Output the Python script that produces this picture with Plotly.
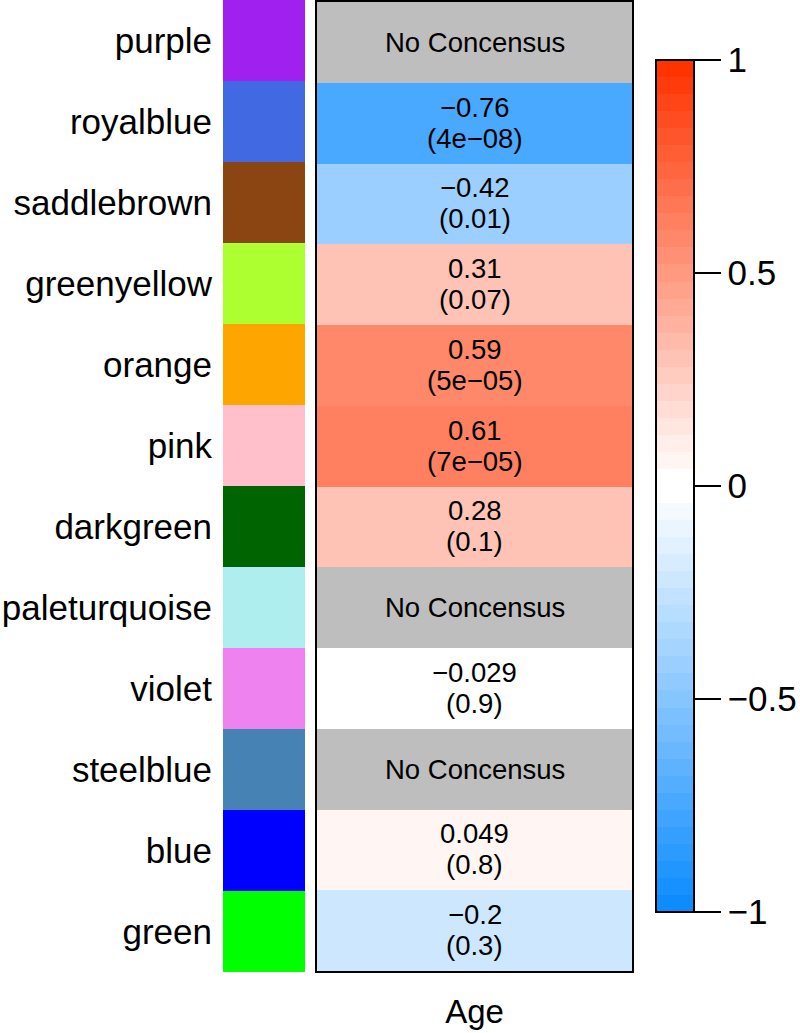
import plotly.graph_objects as go

# module eigengene vs trait, top row first
modules = ["purple", "royalblue", "saddlebrown", "greenyellow", "orange", "pink",
           "darkgreen", "paleturquoise", "violet", "steelblue", "blue", "green"]
# R colour values (R "purple" and "green" differ from the CSS ones)
module_hex = ["#A020F0", "#4169E1", "#8B4513", "#ADFF2F", "#FFA500", "#FFC0CB",
              "#006400", "#AFEEEE", "#EE82EE", "#4682B4", "#0000FF", "#00FF00"]
trait = "Age"
cor = [None, -0.76, -0.42, 0.31, 0.59, 0.61, 0.28, None, -0.029, None, 0.049, -0.2]
cor_text = [None, "−0.76", "−0.42", "0.31", "0.59", "0.61", "0.28", None,
            "−0.029", None, "0.049", "−0.2"]
p_text = [None, "4e−08", "0.01", "0.07", "5e−05", "7e−05", "0.1", None,
          "0.9", None, "0.8", "0.3"]
cbar_vals = [-1, -0.5, 0, 0.5, 1]
cbar_text = ["−1", "−0.5", "0", "0.5", "1"]
NA_TEXT = "No Concensus"

# stepped blue-white-red palette, 50 colours (like WGCNA blueWhiteRed(50))
blue_end = (0.05, 0.55, 1.0)
red_end = (1.0, 0.2, 0.0)
half = 25
pal = []
for i in range(half):
    t = i / (half - 1)
    pal.append(tuple(b + (1 - b) * t for b in blue_end))
for i in range(half):
    t = i / (half - 1)
    pal.append(tuple(1 + (r - 1) * t for r in red_end))
pal_hex = ["#%02x%02x%02x" % tuple(round(c * 255) for c in col) for col in pal]
n = len(pal_hex)
stepped = []
for k, c in enumerate(pal_hex):
    stepped.append([k / n, c])
    stepped.append([(k + 1) / n, c])

fig = go.Figure()

# colour swatches
fig.add_trace(go.Heatmap(
    z=[[i] for i in range(len(modules))], x=["module"], y=modules,
    colorscale=[[i / (len(module_hex) - 1), c] for i, c in enumerate(module_hex)],
    zmin=0, zmax=len(modules) - 1, showscale=False, hoverinfo="skip",
    xaxis="x", yaxis="y",
))

# correlation cells
fig.add_trace(go.Heatmap(
    z=[[v] for v in cor], x=[trait], y=modules,
    colorscale=stepped, zmin=-1, zmax=1,
    xaxis="x2", yaxis="y2",
    colorbar=dict(
        x=656 / 800, xanchor="left", xpad=0,
        y=1 - 486 / 1033, yanchor="middle", ypad=0,
        lenmode="pixels", len=852, thickness=38,
        outlinewidth=2, outlinecolor="black",
        ticks="outside", ticklen=26, tickwidth=2, tickcolor="black",
        tickvals=cbar_vals, ticktext=cbar_text,
        tickfont=dict(size=35, color="black"),
    ),
))

CELL_FONT = dict(size=27.5)
annotations = []
for m, v, ct, pt in zip(modules, cor, cor_text, p_text):
    if v is None:
        annotations.append(dict(x=trait, y=m, xref="x2", yref="y2", text=NA_TEXT,
                                showarrow=False, font=CELL_FONT))
    else:
        annotations.append(dict(x=trait, y=m, xref="x2", yref="y2", text=ct,
                                showarrow=False, yshift=16, font=CELL_FONT))
        annotations.append(dict(x=trait, y=m, xref="x2", yref="y2", text="(" + pt + ")",
                                showarrow=False, yshift=-15, font=CELL_FONT))

fig.update_layout(
    width=800, height=1033,
    margin=dict(l=0, r=0, t=0, b=0, autoexpand=False),
    paper_bgcolor="white", plot_bgcolor="#BEBEBE",
    font=dict(family="Liberation Sans, Arial, sans-serif", color="black"),
    showlegend=False,
    annotations=annotations,
    xaxis=dict(domain=[223 / 800, 305 / 800], showticklabels=False,
               showgrid=False, zeroline=False, ticks="", automargin=False),
    yaxis=dict(domain=[61 / 1033, 1], autorange="reversed", showgrid=False,
               zeroline=False, ticks="", tickfont=dict(size=35),
               ticklabelstandoff=10, automargin=False),
    xaxis2=dict(domain=[317 / 800, 632 / 800], anchor="y2", showgrid=False,
                zeroline=False, ticks="", showline=True, mirror=True,
                linewidth=2, linecolor="black", tickfont=dict(size=33),
                ticklabelstandoff=10, automargin=False),
    yaxis2=dict(domain=[62 / 1033, 1031 / 1033], anchor="x2", autorange="reversed",
                showgrid=False, zeroline=False, showticklabels=False, ticks="",
                showline=True, mirror=True, linewidth=2, linecolor="black",
                automargin=False),
)

# drop the browser's default 8px body margin so the figure fills the window
fig.write_html("out.html", config={"displayModeBar": False},
               post_script="document.body.style.margin='0';")
